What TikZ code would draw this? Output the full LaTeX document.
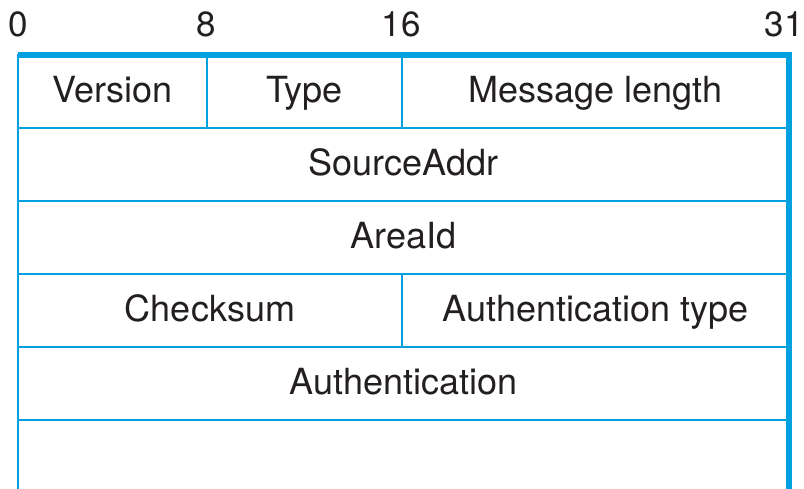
\documentclass[tikz,border=0pt]{standalone}
\usepackage{fontspec}
\setmainfont{TeX Gyre Heros}
\usetikzlibrary{positioning}
\definecolor{pktblue}{RGB}{0,161,222}
\definecolor{pkttext}{RGB}{35,31,32}

\begin{document}
\begin{tikzpicture}[
    x=1pt, y=-1pt,
    node distance=0pt,
    field/.style={draw=pktblue, line width=2pt, outer sep=0pt, inner sep=0pt, minimum height=73pt,
        text height=25pt, text depth=2pt, text=pkttext, font=\fontsize{36}{40}\selectfont},
    bitnum/.style={text=pkttext, inner sep=0pt, anchor=base, font=\fontsize{35}{40}\selectfont},
    frame/.style={draw=pktblue, line width=6.5pt, line join=miter}
]
\useasboundingbox (0,0) rectangle (804,489);

% bit positions
\node[bitnum] (bit0) at (18,37) {0};
\node[bitnum] (bit8) at (206,37) {8};
\node[bitnum] (bit16) at (401,37) {16};
\node[bitnum] (bit31) at (784,37) {31};

% header fields
\node[field, minimum width=189pt, anchor=north west] (version) at (18,55) {Version};
\node[field, minimum width=195pt, right=of version] (type) {Type};
\node[field, minimum width=387pt, right=of type] (msglen) {Message length};
\node[field, minimum width=771pt, anchor=north west] (srcaddr) at (version.south west) {SourceAddr};
\node[field, minimum width=771pt, below=of srcaddr] (areaid) {AreaId};
\node[field, minimum width=384pt, anchor=north west] (checksum) at (areaid.south west) {Checksum};
\node[field, minimum width=387pt, right=of checksum] (authtype) {Authentication type};
\node[field, minimum width=771pt, anchor=north west] (auth) at (checksum.south west) {Authentication};

% open bottom and thick frame
\coordinate (bottomL) at (18,489);
\coordinate (bottomR) at (789,489);
\draw[pktblue, line width=2pt] (auth.south west) -- (bottomL);
\draw[frame] (version.north west) -- (msglen.north east) -- (bottomR);

\end{tikzpicture}
\end{document}
